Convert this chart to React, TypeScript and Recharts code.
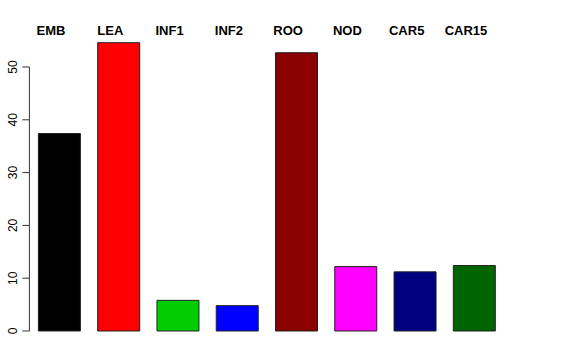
import { BarChart, Bar, XAxis, YAxis, Cell } from 'recharts'

const tissues = ['EMB', 'LEA', 'INF1', 'INF2', 'ROO', 'NOD', 'CAR5', 'CAR15']
const counts = [37.4, 54.6, 5.8, 4.8, 52.7, 12.2, 11.2, 12.4]
const barColors = ['#000000', '#FF0000', '#00CD00', '#0000FF', '#8B0000', '#FF00FF', '#000080', '#006400']
const yTicks = [0, 10, 20, 30, 40, 50]

const Y_MAX = 56
const TICK_SIZE = 7
const FONT = '"Liberation Sans", Arial, Helvetica, sans-serif'

const data = tissues.map((name, i) => ({ name, value: counts[i] }))

function TopLabel(props: any) {
  const { x, y, payload } = props
  return (
    <text x={x - 8} y={y + 6} textAnchor="middle" fontFamily={FONT} fontSize={13} fontWeight="bold" fill="#000">
      {payload.value}
    </text>
  )
}

function YTick(props: any) {
  const { x, y, payload, height } = props
  const axisX = x + TICK_SIZE
  const step = (height * 10) / Y_MAX
  const bx = 17
  return (
    <g>
      {payload.value > 0 && (
        <line x1={axisX} x2={axisX} y1={y} y2={y + step} stroke="#333" strokeWidth={1} />
      )}
      <text
        x={bx}
        y={y}
        transform={`rotate(-90, ${bx}, ${y})`}
        textAnchor="middle"
        fontFamily={FONT}
        fontSize={12}
        fill="#000"
      >
        {payload.value}
      </text>
    </g>
  )
}

export default function App() {
  return (
    <div style={{ position: 'absolute', left: 0, top: 0, background: '#fff' }}>
      <BarChart
        width={576}
        height={360}
        data={data}
        margin={{ top: 5.3, right: 72.4, bottom: 29, left: 0 }}
      >
        <XAxis
          dataKey="name"
          orientation="top"
          height={30}
          axisLine={false}
          tickLine={false}
          tickMargin={0}
          tick={<TopLabel />}
          interval={0}
        />
        <YAxis
          width={29.4}
          domain={[0, Y_MAX]}
          ticks={yTicks}
          axisLine={false}
          tickSize={TICK_SIZE}
          tickMargin={0}
          tickLine={{ stroke: '#333', strokeWidth: 1 }}
          tick={<YTick />}
          interval={0}
        />
        <Bar dataKey="value" barSize={42} stroke="#222" strokeWidth={1} isAnimationActive={false}>
          {data.map((d, i) => (
            <Cell key={d.name} fill={barColors[i]} />
          ))}
        </Bar>
      </BarChart>
    </div>
  )
}
